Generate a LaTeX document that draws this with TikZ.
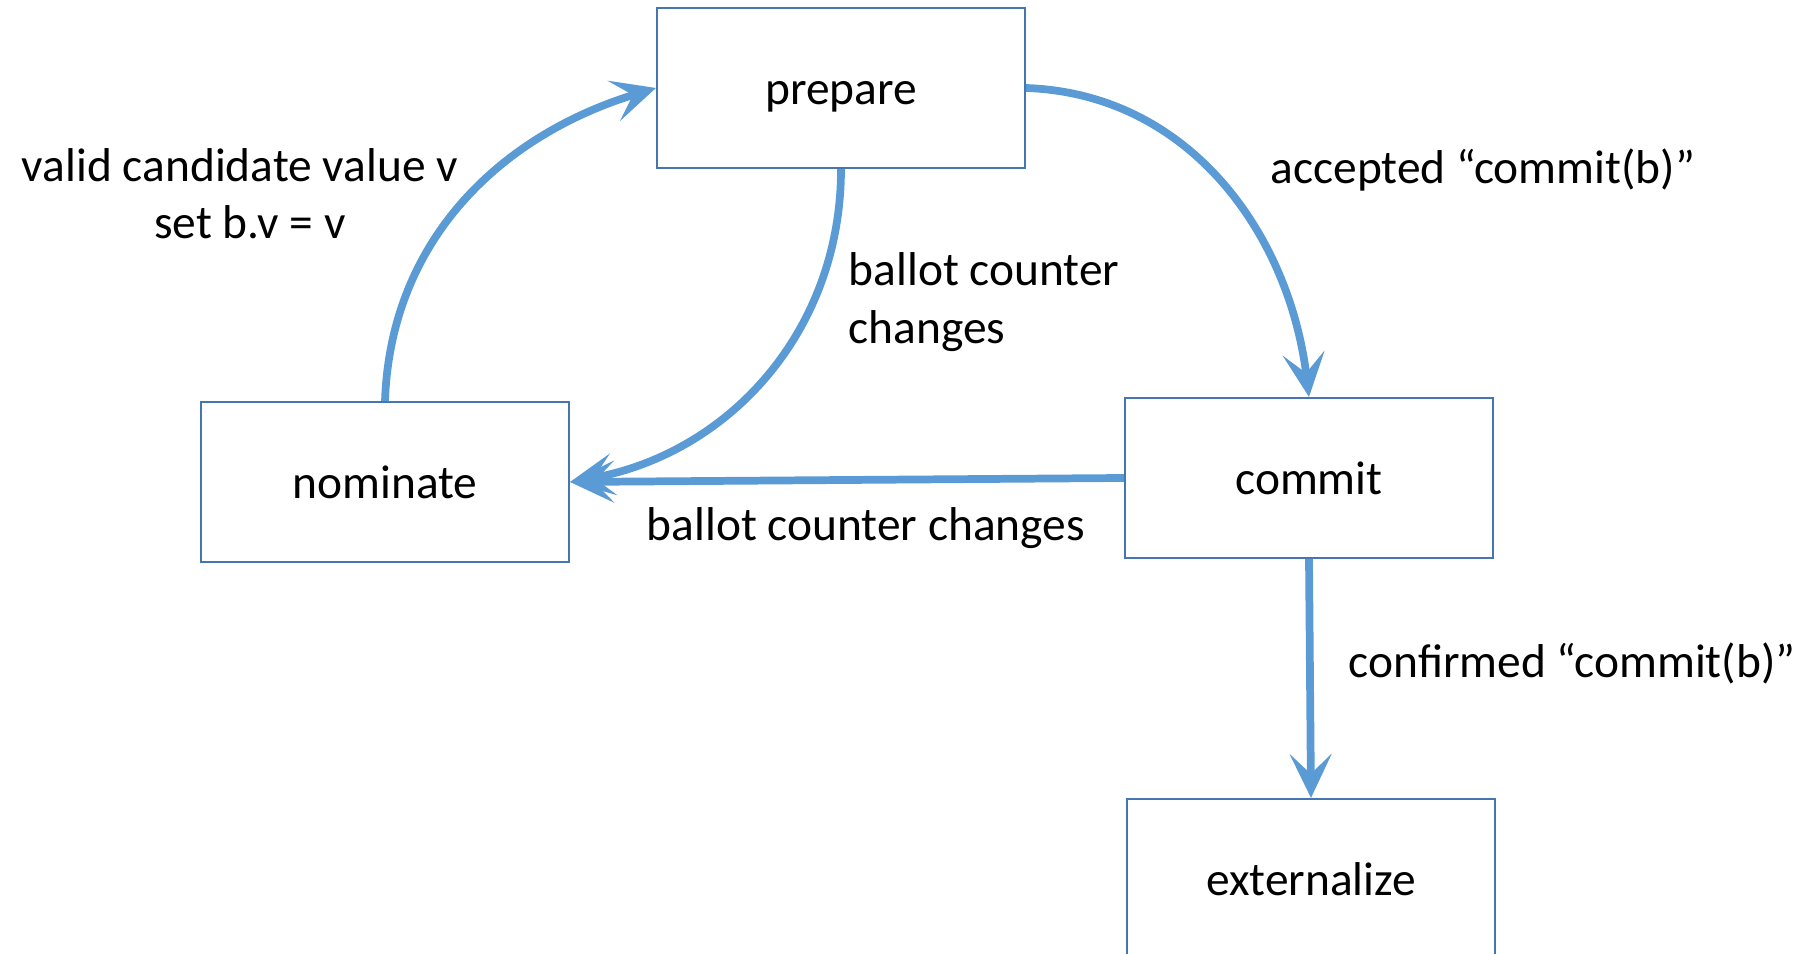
\documentclass[tikz,border=0pt]{standalone}
\usepackage{fontspec}
\setmainfont{Carlito}
\usetikzlibrary{arrows.meta}
\definecolor{boxline}{RGB}{70,118,178}
\definecolor{arrowblue}{RGB}{91,155,213}
\newcommand{\lblfont}{\fontsize{13.5}{16.3}\selectfont}

\begin{document}
\begin{tikzpicture}[>={Stealth[length=4.4mm,width=4.2mm,inset=2mm]},
stage/.style={rectangle,draw=boxline,line width=.6pt,minimum width=3.68cm,minimum height=1.6cm,text height=1.92ex,text depth=0pt,font=\lblfont},
edgelabel/.style={inner sep=0pt,font=\lblfont}]

\clip (0,0) rectangle (18.13,-9.54);

\node[stage](prepare) at (8.41,-.88){prepare};
\node[stage](nominate) at (3.85,-4.82){nominate};
\node[stage](commit) at (13.09,-4.78){commit};
\node[stage](externalize) at (13.11,-8.79){externalize};

\begin{scope}[->, line width=2.2pt, draw=arrowblue]
\draw (nominate.north)to[out=88,in=197](prepare.west);
\draw (prepare.south)to[out=-90,in=10](nominate.east);
\draw (prepare.east)to[out=-2,in=97](commit.north);
\draw (commit.west)--(nominate.east);
\draw (commit.south)--(externalize.north);
\end{scope}

\node[edgelabel,align=center](valid) at (2.40,-1.935){valid candidate value v\\\hspace*{.2cm}set b.v = v};
\node[edgelabel,align=left,anchor=west](counter-up) at (8.48,-3.02){ballot counter\\changes};
\node[edgelabel,anchor=west](accepted) at (12.70,-1.70){accepted “commit(b)”};
\node[edgelabel](counter-low) at (8.66,-5.28){ballot counter changes};
\node[edgelabel,anchor=west](confirmed) at (13.48,-6.63){confirmed “commit(b)”};

\end{tikzpicture}
\end{document}
